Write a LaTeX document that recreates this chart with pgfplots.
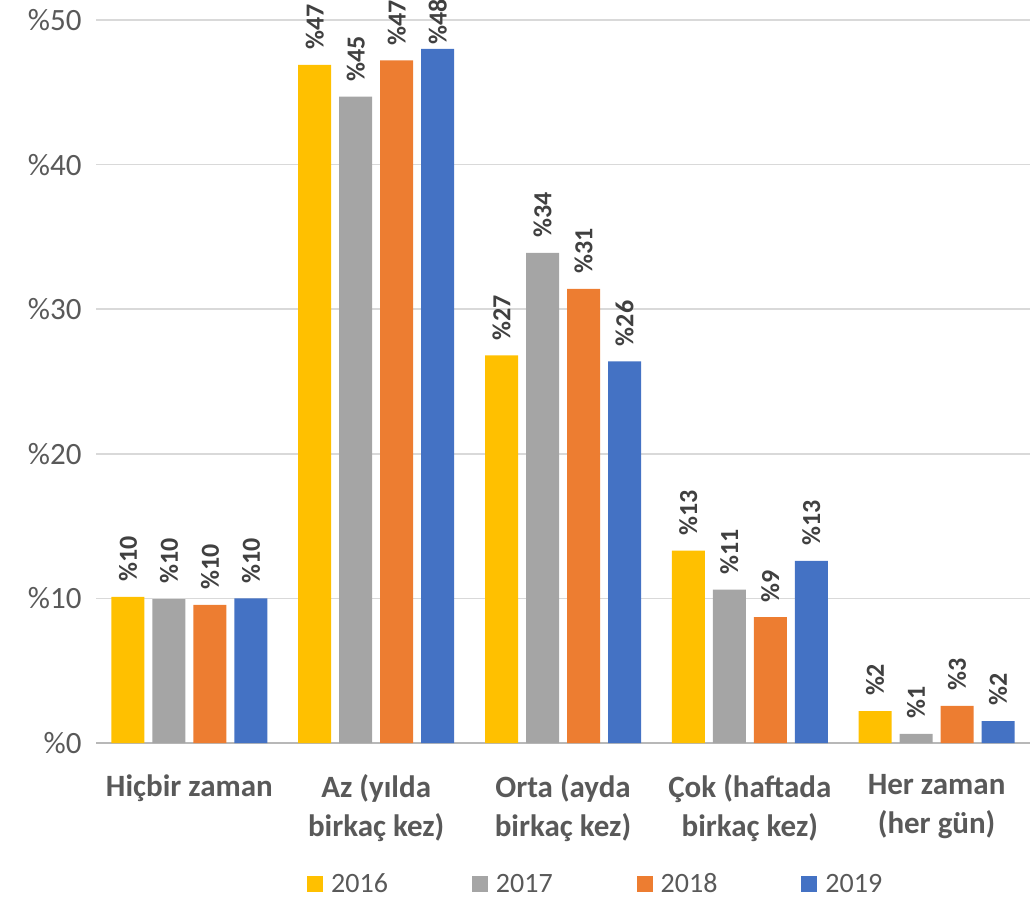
\documentclass[border=0pt]{standalone}
\usepackage{pgfplots}
\usepackage{pgfplotstable}
\pgfplotsset{compat=1.18}
\usepackage{fontspec}
\setmainfont{Carlito}
\definecolor{c16}{HTML}{FFC000}
\definecolor{c17}{HTML}{A5A5A5}
\definecolor{c18}{HTML}{ED7D31}
\definecolor{c19}{HTML}{4472C4}
\definecolor{txt}{HTML}{595959}
\definecolor{lab}{HTML}{404040}
\definecolor{gridc}{HTML}{D9D9D9}
% x = category index, y = value, sep = label gap (pt)
\pgfplotstableread{
x y sep
0 10.1 15
1 46.9 15
2 26.8 15
3 13.3 15
4 2.2 15
}\tA
\pgfplotstableread{
x y sep
0 9.95 15
1 44.7 15
2 33.9 15
3 10.6 15
4 0.64 15
}\tB
\pgfplotstableread{
x y sep
0 9.55 15
1 47.2 15
2 31.4 15
3 8.7 15
4 2.56 15
}\tC
\pgfplotstableread{
x y sep
0 10.0 15
1 48.0 4
2 26.4 15
3 12.6 15
4 1.52 15
}\tD
\begin{document}
\begin{tikzpicture}
\begin{axis}[
  at={(96pt,155pt)}, anchor=south west,
  scale only axis, width=934pt, height=723pt,
  ybar=8pt, bar width=33pt,
  xmin=-0.5, xmax=4.5, ymin=0, ymax=50,
  enlargelimits=false, clip=false,
  axis x line*=bottom, axis y line*=left,
  y axis line style={draw=none},
  x axis line style={draw=gridc!85!black, line width=1.5pt, -},
  major tick length=0pt, tick style={draw=none},
  ymajorgrids, grid style={draw=gridc, line width=1.5pt},
  ytick={0,10,20,30,40,50},
  yticklabels={\%0,\%10,\%20,\%30,\%40,\%50},
  yticklabel style={font=\fontsize{31}{37}\selectfont, text=txt, xshift=-11pt},
  xtick={0,1,2,3,4},
  xticklabels={Hiçbir zaman, Az (yılda\\birkaç kez), Orta (ayda\\birkaç kez), Çok (haftada\\birkaç kez), Her zaman\\(her gün)},
  xticklabel style={font=\fontsize{31}{39}\selectfont\bfseries, text=txt, align=center, yshift=-28pt},
  /pgf/number format/assume math mode=true,
  visualization depends on={\thisrow{sep} \as \lsep},
  nodes near coords={\%\pgfmathprintnumber[fixed,precision=0]{\pgfplotspointmeta}},
  every node near coord/.append style={rotate=90, anchor=west, inner xsep=\lsep pt, inner ysep=1pt, font=\fontsize{26}{31}\selectfont\bfseries, text=lab},
  legend style={at={(axis description cs:0.535,-0.195)}, anchor=center, draw=none, fill=none,
    legend columns=4, font=\fontsize{28}{33}\selectfont, text=txt,
    /tikz/every even column/.append style={column sep=82pt}, nodes={inner sep=2pt}},
  legend image code/.code={\fill[#1] (0pt,-8pt) rectangle (16pt,8pt); \path (22pt,0pt);},
]
\addplot[fill=c16, draw=none] table[x=x,y=y] {\tA};
\addplot[fill=c17, draw=none] table[x=x,y=y] {\tB};
\addplot[fill=c18, draw=none] table[x=x,y=y] {\tC};
\addplot[fill=c19, draw=none] table[x=x,y=y] {\tD};
\legend{2016,2017,2018,2019}
\end{axis}
\pgfresetboundingbox
\path[use as bounding box] (0,0) rectangle (1030pt,898pt);
\end{tikzpicture}
\end{document}
